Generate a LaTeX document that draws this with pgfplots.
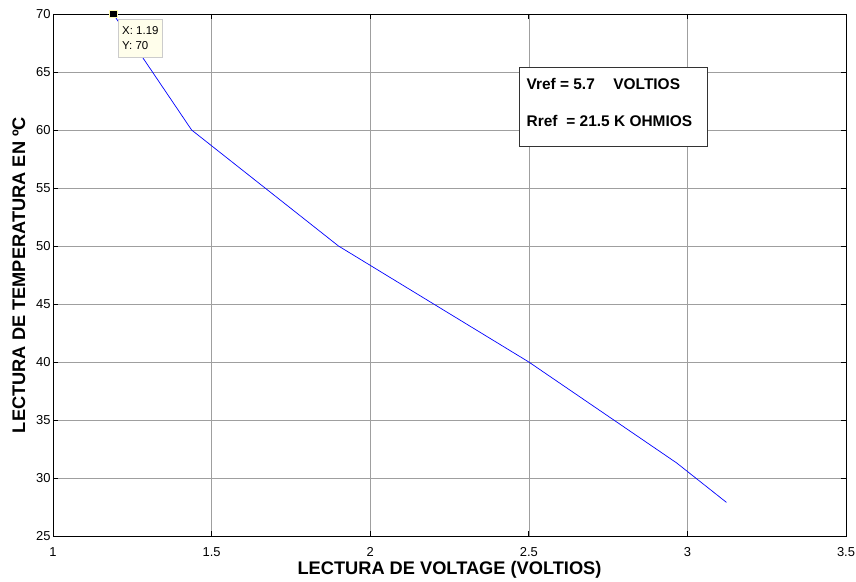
\documentclass[border=0pt]{standalone}
\usepackage{pgfplots}
\pgfplotsset{compat=1.18}
\usepackage{fontspec}
\setmainfont{Liberation Sans}
\begin{document}
\begin{tikzpicture}
\useasboundingbox (0,0) rectangle (856bp,582bp);
\begin{axis}[
  at={(53bp,46bp)}, anchor=south west,
  scale only axis, width=793bp, height=522bp,
  xmin=1, xmax=3.5, ymin=25, ymax=70,
  xtick={1,1.5,...,3.5}, ytick={25,30,...,70},
  xticklabels={1,1.5,2,2.5,3,3.5},
  yticklabels={25,30,35,40,45,50,55,60,65,70},
  tick align=inside, tick pos=both,
  major tick length=5bp,
  grid=major,
  major grid style={gray!75, line width=0.6pt},
  axis line style={black, line width=0.9pt},
  tick style={black, line width=0.9pt},
  ticklabel style={font=\fontsize{13}{15}\selectfont},
  xticklabel style={yshift=-8bp},
  yticklabel style={xshift=1bp},
  xlabel={\bfseries LECTURA DE VOLTAGE (VOLTIOS)},
  ylabel={\bfseries LECTURA DE TEMPERATURA EN ºC},
  label style={font=\fontsize{18.3}{20}\selectfont},
  xlabel style={at={(axis description cs:0.5,0)}, yshift=-22bp},
  ylabel style={yshift=4bp},
  clip=false,
]
\addplot[blue, line width=0.7pt, mark=none] coordinates {
 (1.19,70) (1.437,60) (1.9,50) (2.5,40) (2.966,31.3) (3.123,27.9)
};
\addplot[only marks, mark=square*, mark size=3.8bp, mark options={fill=black, draw=yellow!30!white, line width=0.7pt}] coordinates {(1.19,70)};
\node[draw=gray!40, fill=yellow!8!white, anchor=north west, inner xsep=4bp, inner ysep=7bp, align=left,
  font=\fontsize{11.5}{15}\selectfont] at (axis cs:1.205,69.55) {X: 1.19\\[0.5bp]Y: 70};
\draw[black!80, line width=0.7pt, fill=white] (axis cs:2.469,65.43) rectangle (axis cs:3.064,58.6);
\node[anchor=west, inner sep=0pt, font=\bfseries\fontsize{15.5}{17}\selectfont] at (axis cs:2.4925,64.0) {Vref = 5.7\hspace{1.2em}VOLTIOS};
\node[anchor=west, inner sep=0pt, font=\bfseries\fontsize{15.5}{17}\selectfont] at (axis cs:2.4925,60.75) {Rref\hspace{0.3em} = 21.5 K OHMIOS};
\end{axis}
\end{tikzpicture}
\end{document}
